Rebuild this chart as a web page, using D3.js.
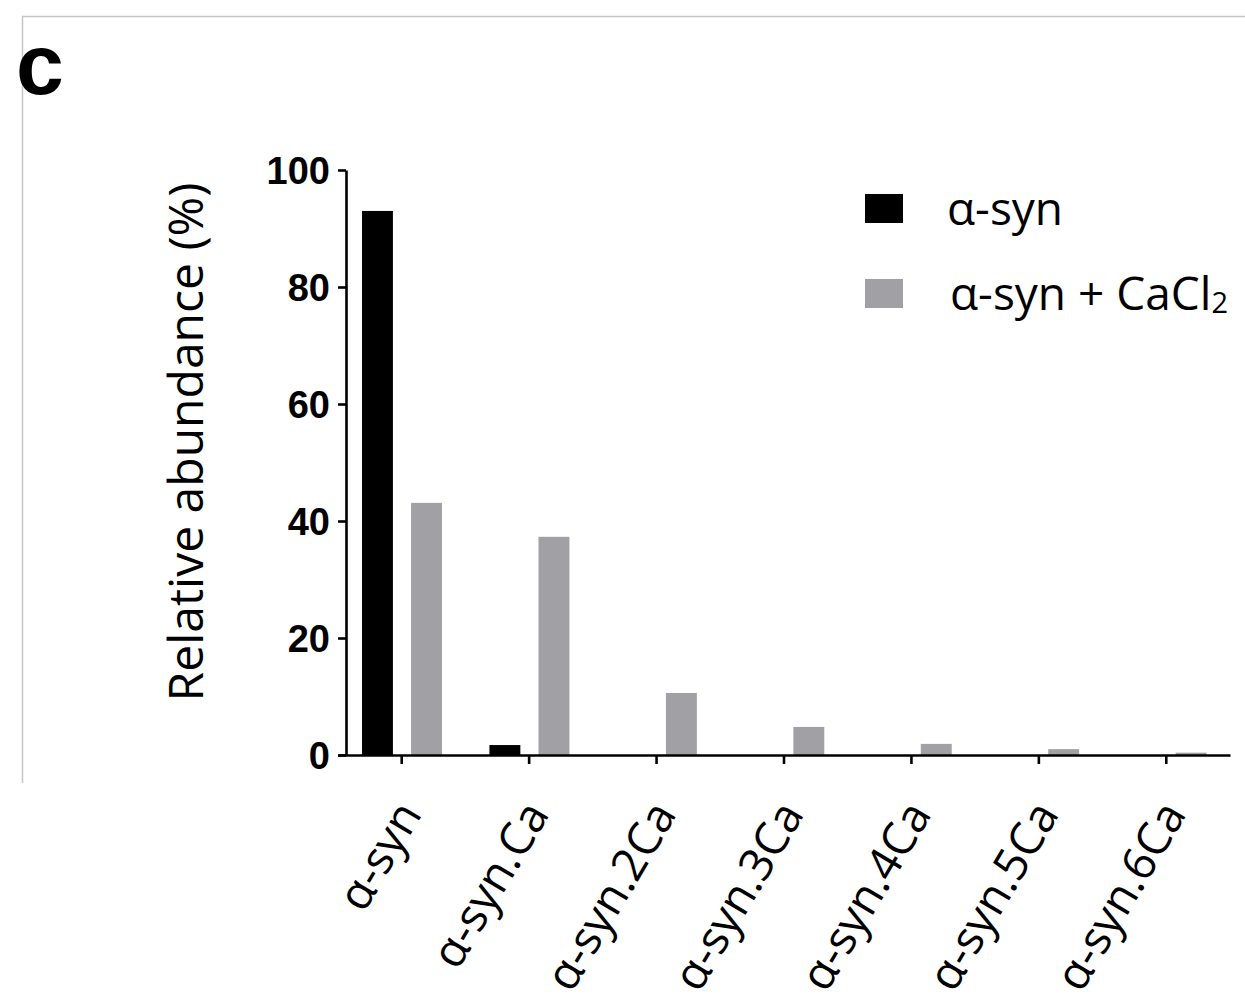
<!DOCTYPE html>
<html>
<head>
<meta charset="utf-8">
<script src="https://cdn.jsdelivr.net/npm/d3@7"></script>
<style>
  body { margin: 0; background: #fff; }
  svg { display: block; }
  .axis path, .axis line { stroke: #000; stroke-width: 2.6px; }
</style>
</head>
<body>
<div class="container"></div>
<script>
// species observed in the spectrum
const categories = ['α-syn', 'α-syn.Ca', 'α-syn.2Ca', 'α-syn.3Ca', 'α-syn.4Ca', 'α-syn.5Ca', 'α-syn.6Ca'];
const seriesNames = ['α-syn', 'α-syn + CaCl2'];
// relative abundance (%)
const apoValues = [93.0, 1.7, 0, 0, 0, 0, 0];
const calciumValues = [43.1, 37.3, 10.6, 4.8, 1.9, 1.0, 0.4];
const yTicks = [0, 20, 40, 60, 80, 100];

window.onload = () => {
  const svgWidth = 1245;
  const svgHeight = 1003;
  const colors = ['#000000', '#a1a1a5'];

  const svg = d3.select('.container')
    .append('svg')
    .attr('width', svgWidth)
    .attr('height', svgHeight);

  // panel frame (only top and left edges visible)
  svg.append('path')
    .attr('d', 'M22.5,783 V16.5 H1245')
    .attr('fill', 'none')
    .attr('stroke', '#c6c6c6')
    .attr('stroke-width', 1.5);

  svg.append('text')
    .attr('x', 16)
    .attr('y', 94)
    .style('font-family', '"Liberation Sans", Arial, sans-serif')
    .style('font-weight', 'bold')
    .style('font-size', '86px')
    .text('c');

  const x = d3.scaleBand().domain(categories).range([338, 1230]);
  const xSub = d3.scaleBand().domain(seriesNames).range([24, 104]).paddingInner(0.37);
  const y = d3.scaleLinear().domain([0, 100]).range([755, 170]);

  const rows = categories.map((c, i) => ({ cat: c, values: [apoValues[i], calciumValues[i]] }));

  // bars
  const groups = svg.append('g')
    .selectAll('g')
    .data(rows)
    .enter()
    .append('g')
    .attr('transform', d => `translate(${x(d.cat)},0)`);

  groups.selectAll('rect')
    .data(d => d.values.map((v, j) => ({ name: seriesNames[j], value: v, j })))
    .enter()
    .append('rect')
    .attr('x', d => xSub(d.name))
    .attr('width', xSub.bandwidth())
    .attr('y', d => y(d.value))
    .attr('height', d => y(0) - y(d.value))
    .attr('fill', d => colors[d.j]);

  // y axis
  const yAxis = svg.append('g')
    .attr('class', 'axis')
    .attr('transform', 'translate(346,0)')
    .call(d3.axisLeft(y).tickValues(yTicks).tickSize(8).tickSizeOuter(0).tickPadding(8));
  yAxis.selectAll('text')
    .style('font-family', '"Liberation Sans", Arial, sans-serif')
    .style('font-weight', 'bold')
    .style('font-size', '38px')
    .attr('dy', '0.36em');

  // x axis
  const xAxis = svg.append('g')
    .attr('class', 'axis')
    .attr('transform', `translate(0,${y(0)})`)
    .call(d3.axisBottom(x).tickSize(9).tickSizeOuter(0));
  xAxis.selectAll('text').remove();

  svg.append('g')
    .selectAll('text')
    .data(categories)
    .enter()
    .append('text')
    .attr('transform', d => `translate(${x(d) + x.bandwidth() / 2 + 21},814) rotate(-59.5)`)
    .style('text-anchor', 'end')
    .style('font-family', '"Open Sans", sans-serif')
    .style('font-size', '46px')
    .text(d => d);

  // y axis title
  svg.append('text')
    .attr('transform', 'translate(203,442) rotate(-90)')
    .style('text-anchor', 'middle')
    .style('font-family', '"Open Sans", sans-serif')
    .style('font-size', '48px')
    .text('Relative abundance (%)');

  // legend
  const legend = svg.append('g')
    .attr('transform', 'translate(865,194)');
  const legendItems = legend.selectAll('g')
    .data(seriesNames)
    .enter()
    .append('g')
    .attr('transform', (d, i) => `translate(0,${i * 85})`);
  legendItems.append('rect')
    .attr('width', 38)
    .attr('height', 29)
    .attr('fill', (d, i) => colors[i]);
  const legendText = legendItems.append('text')
    .attr('x', (d, i) => i === 0 ? 82 : 85)
    .attr('y', 31)
    .style('font-family', '"Open Sans", sans-serif')
    .style('font-size', '46px');
  legendText.append('tspan').text(d => d.replace(/2$/, ''));
  legendText.filter(d => /2$/.test(d))
    .append('tspan')
    .attr('font-size', '29px')
    .attr('dy', '3')
    .text('2');
};
</script>
</body>
</html>
